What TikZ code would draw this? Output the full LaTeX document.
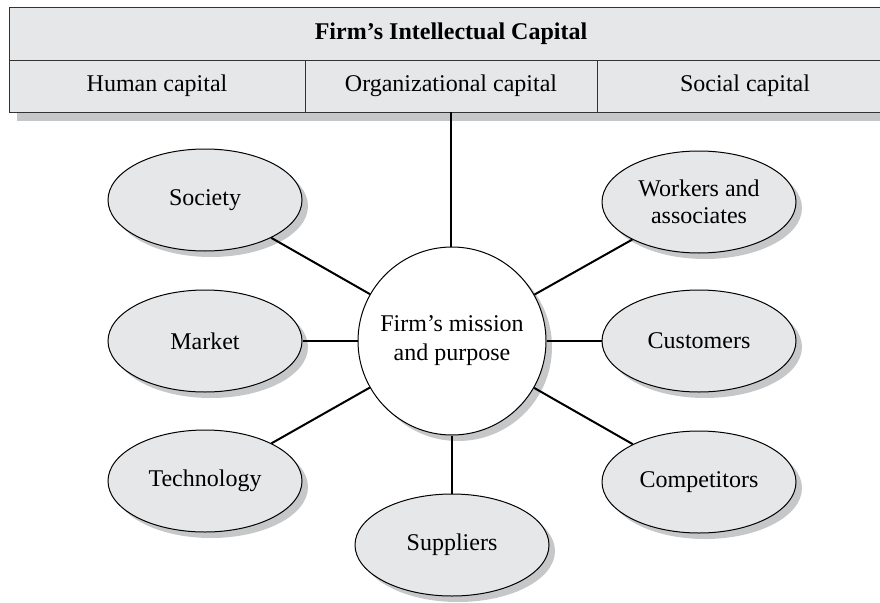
\documentclass[tikz,border=0pt]{standalone}
\usepackage{fontspec}
\setmainfont{Liberation Serif}
\usetikzlibrary{shapes.geometric,shadows}
\definecolor{boxgray}{HTML}{E6E7E8}
\definecolor{shadowgray}{HTML}{C6C7C8}
\begin{document}
\begin{tikzpicture}[x=1pt,y=-1pt,
  cell/.style={draw=black!80, fill=boxgray, line width=0.9pt, inner sep=0pt,
    minimum height=52pt, font=\fontsize{24}{28}\selectfont},
  outer/.style={draw=black, fill=boxgray, line width=1pt, ellipse, inner sep=0pt,
    minimum width=194pt, minimum height=102pt, align=center,
    font=\fontsize{24}{27}\selectfont,
    drop shadow={shadow xshift=6pt, shadow yshift=-6pt, fill=shadowgray, opacity=1}},
  hub/.style={draw=black, fill=white, line width=1pt, circle, inner sep=0pt,
    minimum size=188pt, align=center, font=\fontsize{24}{29}\selectfont,
    drop shadow={shadow xshift=6pt, shadow yshift=-6pt, fill=shadowgray, opacity=1}},
  link/.style={line width=2pt, black}]
\useasboundingbox (0,0) rectangle (880,602);
\clip (0,0) rectangle (880,602);
% top box shadow
\fill[shadowgray] (17,15) rectangle (901,121);
\node[cell, minimum width=884pt, minimum height=53pt, font=\fontsize{24}{28}\selectfont\bfseries] (title) at (451,33.5) {Firm’s Intellectual Capital};
\node[cell, minimum width=296pt] (hum) at (157,86) {Human capital};
\node[cell, minimum width=292pt] (org) at (451,86) {Organizational capital};
\node[cell, minimum width=296pt] (socc) at (745,86) {Social capital};
% hub and satellites
\node[hub] (mission) at (452,341) {Firm’s mission\\and purpose};
\node[outer] (society) at (205,200) {Society};
\node[outer] (market) at (205,341) {Market};
\node[outer] (tech) at (205,481) {Technology};
\node[outer] (workers) at (699,202) {Workers and\\associates};
\node[outer] (customers) at (699,341) {Customers};
\node[outer] (competitors) at (699,482) {Competitors};
\node[outer] (suppliers) at (452,545) {Suppliers};
% connectors
\draw[link] (org.south) -- (org.south |- mission.north);
\draw[link] (society) -- (mission);
\draw[link] (market) -- (mission);
\draw[link] (tech) -- (mission);
\draw[link] (workers) -- (mission);
\draw[link] (customers) -- (mission);
\draw[link] (competitors) -- (mission);
\draw[link] (suppliers) -- (mission);
\end{tikzpicture}
\end{document}
